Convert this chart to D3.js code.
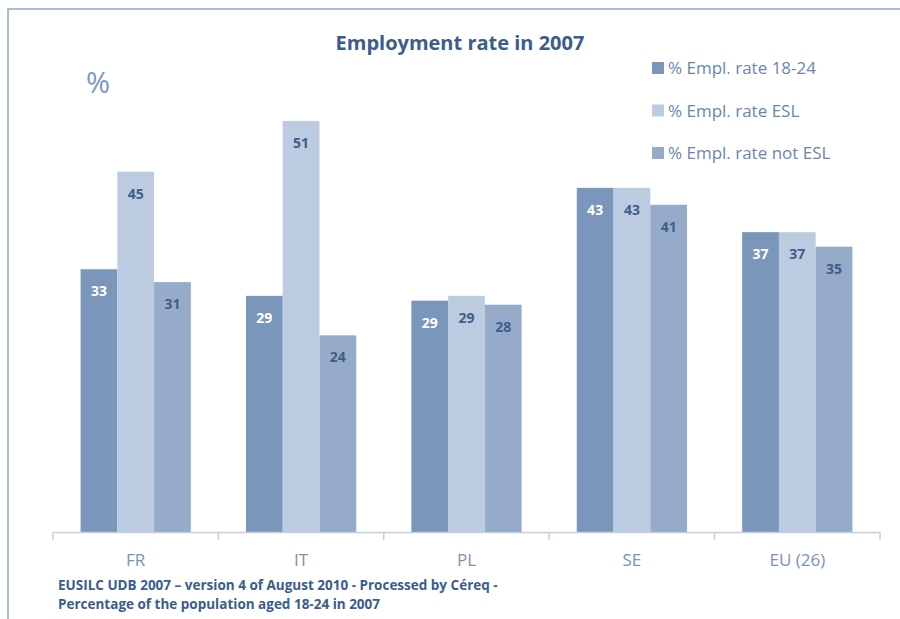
<!DOCTYPE html>
<html><head><meta charset="utf-8">
<script src="https://cdn.jsdelivr.net/npm/d3@7"></script>
<style>
html,body{margin:0;padding:0;background:#fff;}
svg{display:block;}
text{font-family:"Open Sans",sans-serif;}
</style></head>
<body>
<svg id="chart" width="900" height="619"></svg>
<script>
const categories = ["FR", "IT", "PL", "SE", "EU (26)"];
const seriesNames = ["% Empl. rate 18-24", "% Empl. rate ESL", "% Empl. rate not ESL"];
const empl1824 = [32.6, 29.3, 28.7, 42.7, 37.2];
const emplESL = [44.7, 51.0, 29.3, 42.7, 37.2];
const emplNotESL = [31.0, 24.4, 28.2, 40.6, 35.4];
const seriesValues = [empl1824, emplESL, emplNotESL];
const colors = ["#7a96bb", "#bccbdf", "#95abc9"];
const labelColors = ["#ffffff", "#3e5f8c", "#3e5f8c"];

const svg = d3.select("#chart");

// frame
svg.append("path").attr("d","M8,630 L8,9 L910,9").attr("fill","none")
  .attr("stroke","#a9bdd7").attr("stroke-width",2);

const baseY = 532;
const x0 = d3.scaleBand().domain(categories).range([53, 880]).padding(0);
const x1 = d3.scaleBand().domain(d3.range(3)).range([0, x0.bandwidth()]).paddingInner(0).paddingOuter(0.75);
const y = d3.scaleLinear().domain([0, 60]).range([baseY, baseY - 60 * 8.06]);

// bars
const groups = svg.append("g").selectAll("g").data(categories).join("g")
  .attr("transform", d => `translate(${x0(d)},0)`);
groups.each(function(c, ci) {
  const g = d3.select(this);
  seriesValues.forEach((vals, si) => {
    const v = vals[ci];
    g.append("rect").attr("x", x1(si)).attr("y", y(v))
      .attr("width", x1.bandwidth()).attr("height", baseY - y(v))
      .attr("fill", colors[si]);
    g.append("text").attr("x", x1(si) + x1.bandwidth()/2).attr("y", y(v) + 27)
      .attr("text-anchor","middle").attr("font-size", 14).attr("font-weight","bold")
      .attr("fill", labelColors[si]).text(Math.round(v));
  });
});

// axis
const axis = svg.append("g").attr("transform", `translate(0,${baseY})`)
  .call(d3.axisBottom(x0).tickSize(0).tickPadding(22));
axis.select(".domain").attr("stroke","#c3cfe0").attr("stroke-width",1.5);
axis.selectAll("text").attr("font-size",17).attr("fill","#7d92b2")
  .style("font-family","'Open Sans',sans-serif");
const bounds = categories.map(c => x0(c)).concat([x0.range()[1]]);
svg.append("g").selectAll("line").data(bounds).join("line")
  .attr("x1", d => d).attr("x2", d => d).attr("y1", baseY).attr("y2", baseY + 8)
  .attr("stroke","#c3cfe0").attr("stroke-width",1.5);

// title
svg.append("text").attr("x", 460).attr("y", 50).attr("text-anchor","middle")
  .attr("font-size", 20).attr("font-weight","bold").attr("fill","#3b5c8c")
  .text("Employment rate in 2007");

// percent sign
svg.append("text").attr("x", 86).attr("y", 93).attr("font-size", 29)
  .attr("fill","#7c96bc").text("%");

// legend
const legend = svg.append("g").selectAll("g").data(seriesNames).join("g")
  .attr("transform", (d,i) => `translate(652,${68 + i*42.5})`);
legend.append("rect").attr("x",0).attr("y",-6).attr("width",12).attr("height",12)
  .attr("fill",(d,i)=>colors[i]);
legend.append("text").attr("x",16).attr("y",6).attr("font-size",17)
  .attr("fill","#6b86ab").text(d => d);

// footnote
const foot = ["EUSILC UDB 2007 \u2013 version 4 of August 2010 - Processed by C\u00e9req -",
              "Percentage of the population aged 18-24 in 2007"];
svg.append("g").selectAll("text").data(foot).join("text")
  .attr("x", 58).attr("y", (d,i) => 590 + i*19)
  .attr("font-size", 13.5).attr("font-weight","bold").attr("fill","#3b5c8c").text(d => d);
</script>
</body></html>
